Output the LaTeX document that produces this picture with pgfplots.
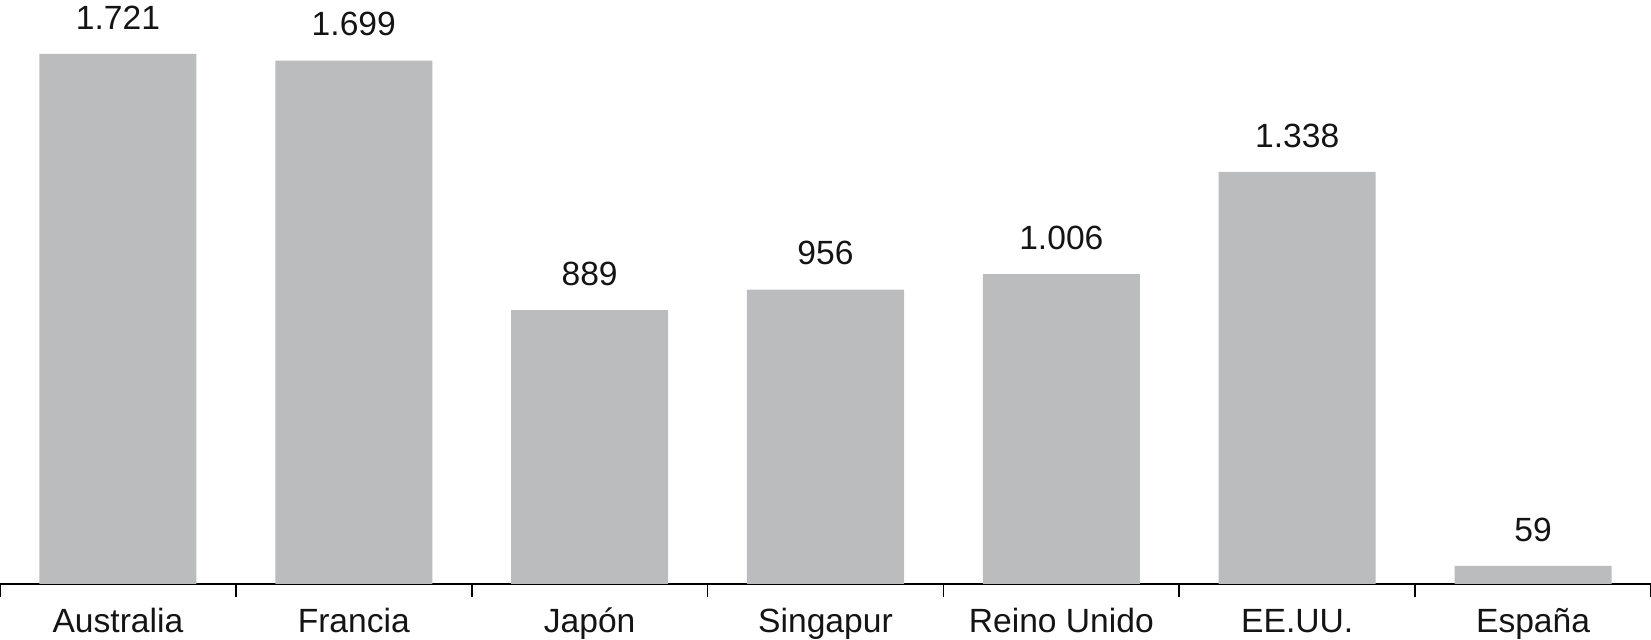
\documentclass[border=0pt]{standalone}
\usepackage{pgfplots}
\pgfplotsset{compat=1.18}
\usepackage{fontspec}
\setmainfont{Liberation Sans}
\definecolor{bargray}{HTML}{BBBCBE}
\begin{document}
\begin{tikzpicture}
\begin{axis}[
  at={(0pt,28pt)}, anchor=south west,
  scale only axis,
  width=825.5pt, height=292pt,
  xmin=-0.5, xmax=6.5, ymin=0, ymax=1896,
  axis x line*=bottom,
  axis y line=none,
  axis line style={line width=1pt, black},
  xtick={0,...,6},
  xticklabels={Australia, Francia, Japón, Singapur, Reino Unido, EE.UU., España},
  major tick length=0pt,
  minor xtick={-0.5,0.5,...,6.5},
  minor tick length=6.5pt,
  tick align=outside,
  tick style={line width=0.8pt, black},
  xticklabel style={font=\fontsize{16.8}{19}\selectfont, inner sep=0pt, anchor=north, text height=12pt, yshift=-12pt, text=black!92},
  /pgf/number format/1000 sep={.},
  /pgf/number format/assume math mode=true,
  nodes near coords,
  every node near coord/.append style={font=\fontsize{16.8}{19}\selectfont, inner sep=0pt, anchor=south, yshift=12pt, text=black!92},
  clip=false,
]
\addplot[ybar, bar width=78.5pt, fill=bargray, draw=none] coordinates {
  (0,1721) (1,1699) (2,889) (3,956) (4,1006) (5,1338) (6,59)
};
\end{axis}
\pgfresetboundingbox
\path[use as bounding box] (0,0) rectangle (825.5pt,320pt);
\end{tikzpicture}
\end{document}
